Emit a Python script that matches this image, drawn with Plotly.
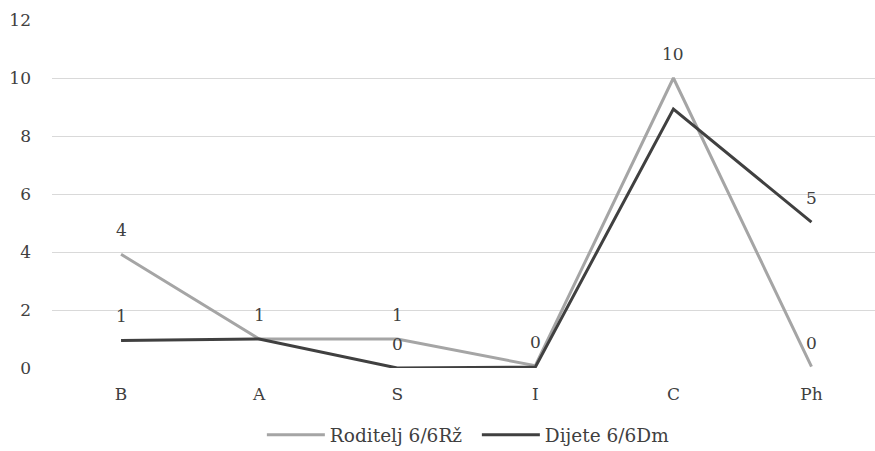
import plotly.graph_objects as go

categories = ["B", "A", "S", "I", "C", "Ph"]
roditelj = [3.92, 1.0, 1.0, 0.08, 10.0, 0.05]
dijete = [0.95, 1.0, 0.0, 0.03, 8.93, 5.03]
roditelj_labels = ["4", "1", "1", "0", "10", "0"]
dijete_labels = ["1", "", "0", "", "", "5"]
y_ticks = [0, 2, 4, 6, 8, 10, 12]

FONT = "DejaVu Serif"
TXT = "#404040"

fig = go.Figure()
fig.add_trace(go.Scatter(
    x=categories, y=roditelj, name="Roditelj 6/6Rž",
    mode="lines", line=dict(color="#a5a5a5", width=3),
))
fig.add_trace(go.Scatter(
    x=categories, y=dijete, name="Dijete 6/6Dm",
    mode="lines", line=dict(color="#404040", width=3),
))

annotations = []
for vals, labs in ((roditelj, roditelj_labels), (dijete, dijete_labels)):
    for c, v, t in zip(categories, vals, labs):
        if t:
            annotations.append(dict(x=c, y=v, text=t, showarrow=False, yshift=24,
                                    font=dict(family=FONT, size=17, color=TXT)))

fig.update_layout(
    width=875, height=451,
    margin=dict(l=52, r=0, t=20, b=83),
    paper_bgcolor="white", plot_bgcolor="white",
    font=dict(family=FONT, size=17, color=TXT),
    showlegend=True,
    annotations=annotations,
    legend=dict(orientation="h", x=0.255, xanchor="left", yref="container",
                y=0.035, yanchor="middle", itemwidth=58,
                font=dict(family=FONT, size=18.5, color=TXT), entrywidth=142,
                entrywidthmode="pixels"),
    xaxis=dict(type="category", range=[-0.5, 5.46], showgrid=False, zeroline=False,
               showline=False, ticks="", ticklabelstandoff=14,
               tickfont=dict(family=FONT, size=17, color=TXT)),
    yaxis=dict(range=[0, 12], tickvals=y_ticks, showgrid=True, gridcolor="#d9d9d9",
               gridwidth=1.3, zeroline=False, showline=False, ticks="",
               ticklabelstandoff=20,
               tickfont=dict(family=FONT, size=17, color=TXT)),
)

fig.write_html("out.html")
